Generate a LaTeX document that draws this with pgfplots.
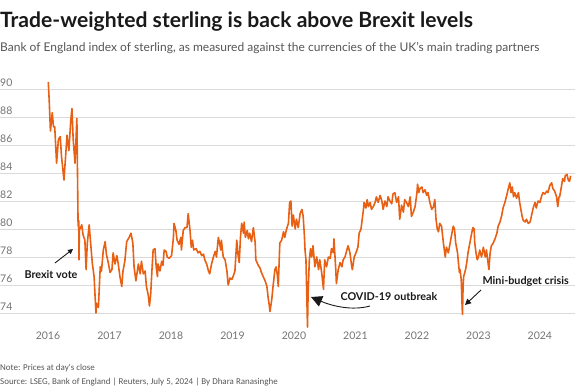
\documentclass[border=0pt]{standalone}
\usepackage{fontspec}
\setmainfont{Lato}
\newfontfamily\smallfont{Carlito}
\usepackage{pgfplots}
\pgfplotsset{compat=1.18}
\usetikzlibrary{arrows.meta}
\definecolor{lineor}{RGB}{232,96,20}
\definecolor{gridc}{RGB}{218,218,218}
\definecolor{tickc}{RGB}{115,115,115}
\definecolor{txt}{RGB}{25,25,25}
\definecolor{subc}{RGB}{85,85,85}
\begin{document}
\begin{tikzpicture}[x=1pt,y=1pt]
\useasboundingbox (0,0) rectangle (580,390);
\node[anchor=base west, inner sep=0, font=\fontsize{21.1}{25}\selectfont\bfseries, text=txt] at (0,362) {Trade-weighted sterling is back above Brexit levels};
\node[anchor=base west, inner sep=0, font=\fontsize{12}{15}\selectfont, text=subc] at (0,338) {Bank of England index of sterling, as measured against the currencies of the UK's main trading partners};
\node[anchor=base west, inner sep=0, font=\smallfont\fontsize{8.95}{12}\selectfont, text=subc] at (0,19) {Note: Prices at day's close};
\node[anchor=base west, inner sep=0, font=\smallfont\fontsize{8.95}{12}\selectfont, text=subc] at (0,5) {Source: LSEG, Bank of England | Reuters, July 5, 2024 | By Dhara Ranasinghe};
\begin{axis}[
  at={(0pt,63pt)}, anchor=south west, scale only axis,
  width=575pt, height=246.4pt,
  xmin=2015.22, xmax=2024.57, ymin=73, ymax=90.6,
  axis line style={draw=none},
  major tick length=0pt,
  ytick={74,76,...,90}, xtick={2016,...,2024},
  ymajorgrids, grid style={gridc, line width=0.9pt},
  /pgf/number format/assume math mode=true,
  /pgf/number format/1000 sep={},
  yticklabel style={anchor=south west, inner sep=0pt, xshift=0pt, yshift=2.5pt, text=tickc, font=\fontsize{10.5}{12}\selectfont},
  xticklabel style={text=tickc, font=\fontsize{10.5}{12}\selectfont, yshift=-1pt},
  clip=false,
]
\addplot[lineor, line width=1.6pt, line join=round] table {
x y
2016.005 90.5
2016.02 89.2
2016.04 87.0
2016.07 88.3
2016.09 87.3
2016.11 87.3
2016.14 84.7
2016.17 86.4
2016.20 86.6
2016.22 85.2
2016.26 83.5
2016.29 85.4
2016.31 86.7
2016.34 85.6
2016.37 87.7
2016.39 88.6
2016.41 86.4
2016.44 84.7
2016.47 87.9
2016.475 86.1
2016.485 82.1
2016.49 80.2
2016.50 80.6
2016.505 77.8
2016.51 79.9
2016.55 80.3
2016.57 79.6
2016.60 79.2
2016.62 77.1
2016.64 79.0
2016.67 80.3
2016.69 79.2
2016.72 77.6
2016.75 76.6
2016.78 74.0
2016.79 74.7
2016.82 74.4
2016.85 77.3
2016.87 77.0
2016.90 78.5
2016.93 79.1
2016.95 78.2
2016.98 77.6
2017.01 76.9
2017.04 77.1
2017.06 78.3
2017.09 77.5
2017.12 78.1
2017.14 77.6
2017.17 76.6
2017.20 75.9
2017.22 77.0
2017.25 77.7
2017.28 79.1
2017.32 79.4
2017.35 79.7
2017.38 79.0
2017.40 77.3
2017.43 76.3
2017.47 77.5
2017.50 76.8
2017.52 77.7
2017.55 76.8
2017.58 77.0
2017.60 75.9
2017.63 75.3
2017.65 74.5
2017.67 75.3
2017.69 77.0
2017.71 78.5
2017.74 78.6
2017.76 77.3
2017.78 76.6
2017.79 77.5
2017.82 77.0
2017.85 77.7
2017.87 77.4
2017.89 78.5
2017.92 78.4
2017.94 78.0
2017.97 77.9
2018.01 78.1
2018.04 79.4
2018.05 80.4
2018.08 79.9
2018.10 79.2
2018.13 78.9
2018.16 79.4
2018.17 78.5
2018.20 79.9
2018.23 80.1
2018.26 80.1
2018.28 81.1
2018.31 79.9
2018.33 78.7
2018.35 79.2
2018.37 78.5
2018.41 78.6
2018.44 78.3
2018.47 78.4
2018.50 78.1
2018.53 78.2
2018.55 77.8
2018.58 77.5
2018.61 77.0
2018.63 76.8
2018.66 77.5
2018.69 78.0
2018.72 78.4
2018.74 78.0
2018.77 79.4
2018.79 79.0
2018.81 78.5
2018.82 79.2
2018.85 78.0
2018.88 77.8
2018.91 77.0
2018.93 76.0
2018.96 76.5
2018.99 76.4
2019.01 76.6
2019.04 77.0
2019.07 79.2
2019.09 78.2
2019.11 77.6
2019.13 79.4
2019.15 80.4
2019.18 79.7
2019.19 80.5
2019.21 79.4
2019.24 79.9
2019.26 79.3
2019.28 79.7
2019.31 79.1
2019.34 80.1
2019.37 79.0
2019.38 77.8
2019.42 77.4
2019.45 77.2
2019.47 76.9
2019.50 76.6
2019.53 76.3
2019.56 75.9
2019.58 75.1
2019.60 74.5
2019.61 74.1
2019.64 75.0
2019.66 75.9
2019.69 77.1
2019.71 77.3
2019.73 76.7
2019.745 75.9
2019.77 79.0
2019.80 79.2
2019.83 79.8
2019.85 79.4
2019.88 80.0
2019.91 80.4
2019.93 81.9
2019.95 82.0
2019.97 80.2
2019.99 81.0
2020.02 80.0
2020.04 80.7
2020.07 80.1
2020.10 81.1
2020.13 81.4
2020.15 80.9
2020.17 79.5
2020.18 78.5
2020.195 77.8
2020.21 75.0
2020.22 73.0
2020.23 75.4
2020.25 77.8
2020.27 78.6
2020.29 78.0
2020.31 78.8
2020.34 77.3
2020.37 78.0
2020.40 77.1
2020.42 77.8
2020.45 76.9
2020.48 75.7
2020.50 77.8
2020.53 77.3
2020.56 78.0
2020.59 77.9
2020.61 78.6
2020.64 78.3
2020.65 79.3
2020.68 77.1
2020.69 76.1
2020.72 77.1
2020.75 77.6
2020.78 77.3
2020.80 77.8
2020.83 78.0
2020.86 78.5
2020.88 78.8
2020.91 78.3
2020.94 77.3
2020.95 77.1
2020.98 78.0
2021.00 78.2
2021.04 78.7
2021.06 79.7
2021.09 80.0
2021.11 80.7
2021.13 81.4
2021.14 81.9
2021.17 81.5
2021.19 82.1
2021.21 81.6
2021.24 81.9
2021.26 81.4
2021.29 81.6
2021.32 81.9
2021.34 82.3
2021.37 81.9
2021.40 82.4
2021.43 82.0
2021.45 81.4
2021.48 82.0
2021.51 81.6
2021.53 82.3
2021.56 82.0
2021.59 81.8
2021.61 82.5
2021.64 82.6
2021.67 81.9
2021.70 82.3
2021.72 80.7
2021.75 81.7
2021.78 81.2
2021.80 82.1
2021.83 81.9
2021.86 81.6
2021.89 82.3
2021.91 80.9
2021.94 81.2
2021.97 81.6
2022.00 82.6
2022.01 83.2
2022.03 82.6
2022.05 82.9
2022.08 83.0
2022.10 82.6
2022.13 82.8
2022.16 82.4
2022.18 82.6
2022.21 81.9
2022.24 81.4
2022.27 81.6
2022.29 82.1
2022.31 80.7
2022.33 80.0
2022.35 79.8
2022.37 80.4
2022.40 80.2
2022.43 79.0
2022.46 78.0
2022.48 78.7
2022.51 78.3
2022.54 79.0
2022.56 79.5
2022.59 80.2
2022.61 80.0
2022.63 79.0
2022.66 78.3
2022.67 77.8
2022.69 76.9
2022.70 77.1
2022.72 76.4
2022.73 75.0
2022.74 73.9
2022.75 75.9
2022.76 76.6
2022.79 77.1
2022.81 77.6
2022.83 78.3
2022.86 79.0
2022.89 79.7
2022.91 80.1
2022.93 80.0
2022.94 79.0
2022.96 78.3
2022.98 77.8
2023.00 78.0
2023.02 78.5
2023.05 78.0
2023.08 78.7
2023.11 78.0
2023.13 78.5
2023.15 77.8
2023.17 77.1
2023.19 78.3
2023.21 78.8
2023.24 79.0
2023.27 79.3
2023.30 79.7
2023.32 80.2
2023.35 80.5
2023.38 81.0
2023.40 81.5
2023.43 81.9
2023.46 82.4
2023.48 82.8
2023.51 83.3
2023.53 82.6
2023.55 83.0
2023.57 82.3
2023.59 82.6
2023.62 82.2
2023.65 82.6
2023.67 81.9
2023.69 81.4
2023.71 80.9
2023.73 80.6
2023.76 80.5
2023.78 80.7
2023.81 80.4
2023.84 80.5
2023.86 80.9
2023.89 81.5
2023.92 81.9
2023.94 81.5
2023.97 82.0
2024.00 81.9
2024.03 82.4
2024.05 82.6
2024.08 82.5
2024.11 82.7
2024.13 82.6
2024.16 83.1
2024.19 83.3
2024.21 82.9
2024.24 82.7
2024.27 82.3
2024.29 81.6
2024.31 82.3
2024.32 82.3
2024.34 82.8
2024.37 83.6
2024.40 83.4
2024.41 83.8
2024.44 83.9
2024.46 83.5
2024.48 83.4
2024.50 83.8
};
\end{axis}
% annotations
\node[font=\fontsize{10.8}{12}\selectfont\bfseries, text=txt] at (51,115) {Brexit vote};
\draw[txt, line width=0.9pt, -{Triangle[length=5pt,width=5pt]}] (55,127) -- (73,141);
\node[anchor=west, font=\fontsize{10.8}{12}\selectfont\bfseries, text=txt] at (337,93) {COVID-19 outbreak};
\draw[txt, line width=0.9pt, -{Triangle[length=11pt,width=11pt]}] (370,84) .. controls (352,79) and (332,84) .. (311,93);
\node[anchor=west, font=\fontsize{10.8}{12}\selectfont\bfseries, text=txt] at (479,109) {Mini-budget crisis};
\draw[txt, line width=0.9pt, -{Triangle[length=6pt,width=6pt]}] (481,100) -- (465,85);
\end{tikzpicture}
\end{document}
